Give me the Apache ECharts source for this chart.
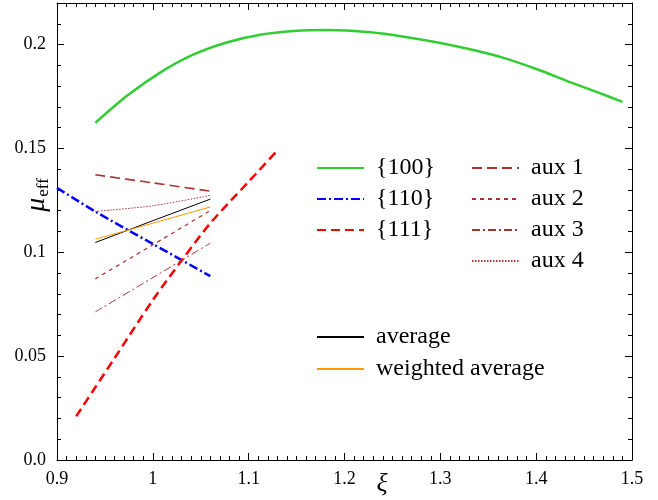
<!DOCTYPE html>
<html>
<head>
<meta charset="utf-8">
<script src="https://cdn.jsdelivr.net/npm/echarts@6/dist/echarts.min.js"></script>
<style>
  html,body{margin:0;padding:0;background:#fff;}
  #main{width:658px;height:500px;}
</style>
</head>
<body>
<div id="main"></div>
<script>
// data
var x100 = [0.940, 0.973, 1.008, 1.042, 1.077, 1.112, 1.147, 1.182, 1.227, 1.262, 1.296, 1.331, 1.366, 1.401, 1.436, 1.463, 1.490];
var y100 = [0.1623, 0.1753, 0.1866, 0.1951, 0.2010, 0.2047, 0.2065, 0.2070, 0.2059, 0.2038, 0.2011, 0.1977, 0.1936, 0.1881, 0.1818, 0.1772, 0.1724];

var x110 = [0.90, 0.94, 1.00, 1.06];
var y110 = [0.1310, 0.1196, 0.1040, 0.0885];

var x111 = [0.92, 0.96, 1.00, 1.03, 1.06, 1.10, 1.13];
var y111 = [0.021, 0.049, 0.077, 0.096, 0.114, 0.134, 0.149];

var xAux = [0.94, 1.00, 1.06];
var aux1 = [0.1373, 0.1334, 0.1294];
var aux2 = [0.0872, 0.1036, 0.1201];
var aux3 = [0.0713, 0.0878, 0.1044];
var aux4 = [0.1197, 0.1224, 0.1274];
var avg = [0.1047, 0.1152, 0.1256];
var wavg = [0.1063, 0.1140, 0.1218];

var xTicks = [0.9, 1.5, 0.1];
var yTicks = [0, 0.22, 0.05];

function pairs(xs, ys){
  var out = [];
  for (var i = 0; i < xs.length; i++) {
    out.push([xs[i], ys[i]]);
  }
  return out;
}

var font = 'Liberation Serif';
var auxColor = '#a83232';

function lineSeries(name, data, color, width, type, smooth){
  return {
    name: name,
    type: 'line',
    data: data,
    symbol: 'none',
    smooth: smooth,
    lineStyle: {color: color, width: width, type: type},
    itemStyle: {color: color},
    z: 3
  };
}

var axisCommon = {
  type: 'value',
  axisLine: {show: true, onZero: false, lineStyle: {color: '#000', width: 1}},
  axisTick: {show: true, inside: true, length: 7, lineStyle: {color: '#000'}},
  minorTick: {show: true, length: 4, lineStyle: {color: '#000'}},
  splitLine: {show: false}
};

function axis(extra){
  var a = JSON.parse(JSON.stringify(axisCommon));
  for (var k in extra) a[k] = extra[k];
  return a;
}

var legendText = {fontFamily: font, fontSize: 24, color: '#000', lineHeight: 24, padding: [0, 0, 0, 7]};
// hide the symbol in the legend icon, keep the line
var legendItem = {opacity: 0, borderWidth: 0};

var option = {
  animation: false,
  backgroundColor: '#fff',
  grid: {left: 57, right: 26, top: 3, bottom: 40, containLabel: false},
  xAxis: [
    axis({
      min: xTicks[0], max: xTicks[1], interval: xTicks[2], position: 'bottom',
      minorTick: {show: true, splitNumber: 10, length: 4, lineStyle: {color: '#000'}},
      axisLabel: {fontFamily: font, fontSize: 18, color: '#000', margin: 10,
        formatter: function(v){ return String(+v.toFixed(2)); }}
    }),
    axis({
      min: xTicks[0], max: xTicks[1], interval: xTicks[2], position: 'top',
      minorTick: {show: true, splitNumber: 10, length: 4, lineStyle: {color: '#000'}},
      axisLabel: {show: false}
    })
  ],
  yAxis: [
    axis({
      min: yTicks[0], max: yTicks[1], interval: yTicks[2], position: 'left',
      minorTick: {show: true, splitNumber: 5, length: 4, lineStyle: {color: '#000'}},
      axisLabel: {fontFamily: font, fontSize: 18, color: '#000', margin: 11, showMaxLabel: false,
        formatter: function(v){ return v === 0 ? '0.0' : String(+v.toFixed(3)); }}
    }),
    axis({
      min: yTicks[0], max: yTicks[1], interval: yTicks[2], position: 'right',
      minorTick: {show: true, splitNumber: 5, length: 4, lineStyle: {color: '#000'}},
      axisLabel: {show: false}
    })
  ],
  legend: [
    {
      orient: 'vertical', left: 316, top: 156, padding: 0, itemGap: 7,
      itemWidth: 47, itemHeight: 14, textStyle: legendText, itemStyle: legendItem,
      data: ['{100}', '{110}', '{111}']
    },
    {
      orient: 'vertical', left: 471, top: 156, padding: 0, itemGap: 7,
      itemWidth: 47, itemHeight: 14, textStyle: legendText, itemStyle: legendItem,
      data: ['aux 1', 'aux 2', 'aux 3', 'aux 4']
    },
    {
      orient: 'vertical', left: 316, top: 325, padding: 0, itemGap: 8,
      itemWidth: 47, itemHeight: 14, textStyle: legendText, itemStyle: legendItem,
      data: ['average', 'weighted average']
    }
  ],
  graphic: [
    {
      type: 'text', x: 382, y: 484,
      style: {text: 'ξ', fontFamily: font, fontSize: 26, fontStyle: 'italic', fill: '#000',
        align: 'center', verticalAlign: 'middle'}
    },
    {
      type: 'text', x: 37, y: 195, rotation: Math.PI / 2,
      style: {
        text: '{mu|μ}{sub|eff}',
        align: 'center', verticalAlign: 'middle',
        rich: {
          mu: {fontFamily: font, fontSize: 28, fontStyle: 'italic', fill: '#000', color: '#000'},
          sub: {fontFamily: font, fontSize: 17, fill: '#000', color: '#000', padding: [14, 0, 0, 1]}
        }
      }
    }
  ],
  series: [
    lineSeries('{100}', pairs(x100, y100), '#33cc33', 2.5, 'solid', 0.25),
    lineSeries('{110}', pairs(x110, y110), '#0000ff', 2.5, [9, 3, 2, 3], 0.3),
    lineSeries('{111}', pairs(x111, y111), '#ff0000', 2.5, [9, 5], 0.3),
    lineSeries('aux 1', pairs(xAux, aux1), auxColor, 1.6, [10, 5], 0.3),
    lineSeries('aux 2', pairs(xAux, aux2), auxColor, 1.2, [4, 4], 0.3),
    lineSeries('aux 3', pairs(xAux, aux3), auxColor, 1, [8, 3, 2, 3], 0.3),
    lineSeries('aux 4', pairs(xAux, aux4), auxColor, 1, [1.5, 1.5], 0.3),
    lineSeries('average', pairs(xAux, avg), '#000000', 1, 'solid', false),
    lineSeries('weighted average', pairs(xAux, wavg), '#ff9900', 1, 'solid', false)
  ]
};

var myChart = echarts.init(document.getElementById('main'));
myChart.setOption(option);
</script>
</body>
</html>
